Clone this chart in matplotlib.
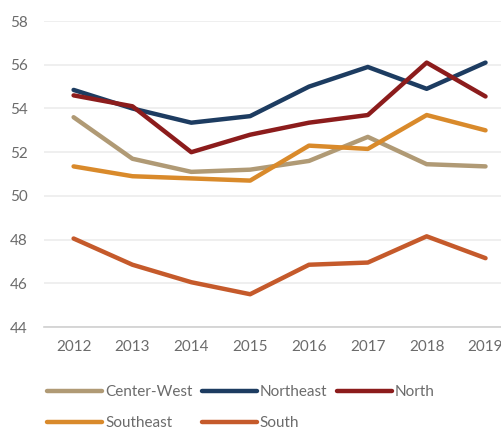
import matplotlib
matplotlib.use("Agg")
import matplotlib.pyplot as plt

years = [2012, 2013, 2014, 2015, 2016, 2017, 2018, 2019]
center_west = [53.6, 51.7, 51.1, 51.2, 51.6, 52.7, 51.45, 51.35]
northeast = [54.85, 54.0, 53.35, 53.65, 55.0, 55.9, 54.9, 56.1]
north = [54.6, 54.1, 52.0, 52.8, 53.35, 53.7, 56.1, 54.55]
southeast = [51.35, 50.9, 50.8, 50.7, 52.3, 52.15, 53.7, 53.0]
south = [48.05, 46.85, 46.05, 45.5, 46.85, 46.95, 48.15, 47.15]

series = [
    ("Center-West", center_west, "#b09a75"),
    ("Northeast", northeast, "#1d3c61"),
    ("North", north, "#8c1c1c"),
    ("Southeast", southeast, "#d98a2b"),
    ("South", south, "#c55a2b"),
]

plt.rcParams['font.family'] = ['Lato', 'DejaVu Sans']

fig = plt.figure(figsize=(5.02, 4.30), dpi=100)
ax = fig.add_axes([0.088, 0.2395, 0.912, 0.7115])

lines = {}
for name, vals, col in series:
    lines[name], = ax.plot(years, vals, color=col, lw=3.2, label=name,
                           solid_capstyle='round', solid_joinstyle='round')

ax.set_ylim(44, 58)
ax.set_xlim(2011.5, 2019.28)
ax.set_yticks(range(44, 59, 2))
ax.set_xticks(years)
ax.grid(axis='y', color='#ececec', lw=1.2)
ax.set_axisbelow(True)
for s in ['top', 'right', 'left']:
    ax.spines[s].set_visible(False)
ax.spines['bottom'].set_color('#d0d0d0')
ax.spines['bottom'].set_linewidth(1.2)
ax.tick_params(length=0, labelsize=11, colors='#6b6b6b', pad=9)
ax.tick_params(axis='y', pad=12)

# legend is filled column by column, so order it to read row-wise
order = ["Center-West", "Southeast", "Northeast", "South", "North"]
leg = fig.legend([lines[n] for n in order], order, loc='upper left',
                 bbox_to_anchor=(0.082, 0.118), ncol=3, frameon=False,
                 fontsize=11, handlelength=3.6, handletextpad=0.2, columnspacing=0.6,
                 labelspacing=1.1, borderaxespad=0)
for t in leg.get_texts():
    t.set_color('#6b6b6b')

fig.savefig("out.png", dpi=100)
